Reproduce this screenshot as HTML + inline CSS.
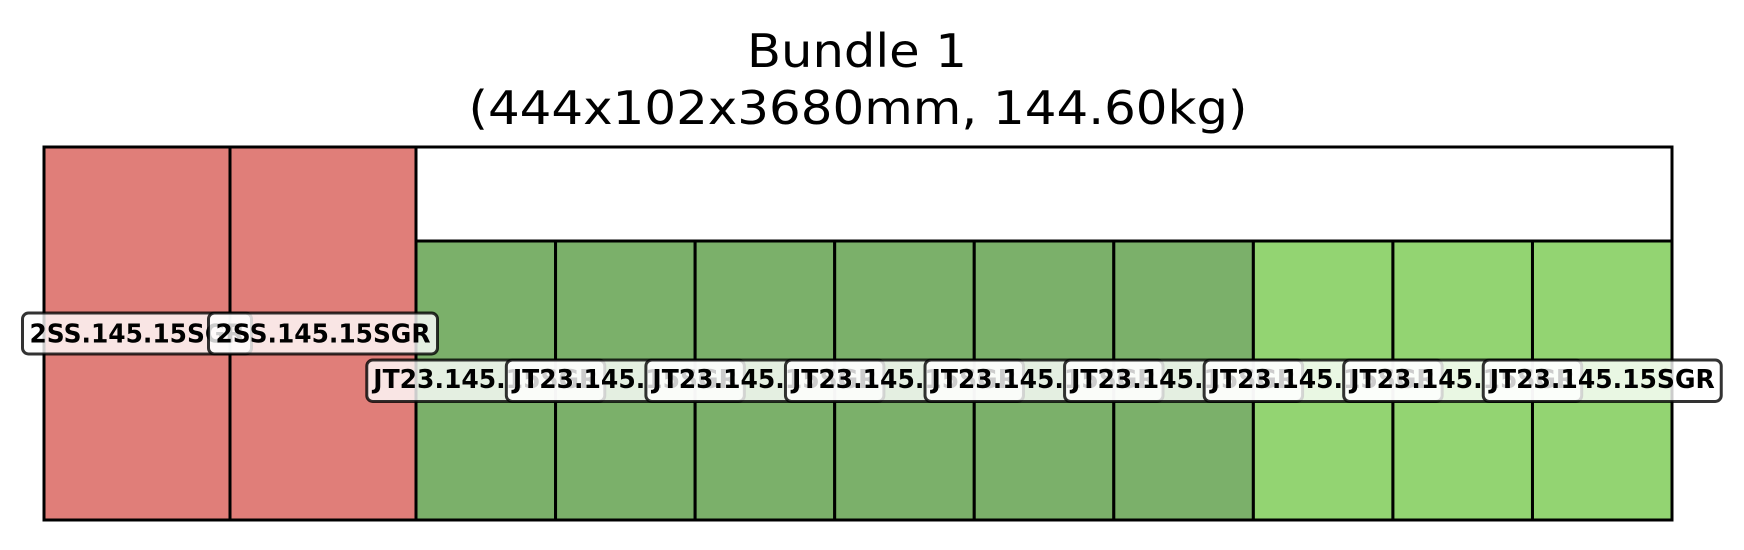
<!DOCTYPE html>
<html><head><meta charset="utf-8"><style>html,body{margin:0;padding:0;background:#fff}svg{display:block}</style></head>
<body>
<svg width="1744" height="550" viewBox="0 0 1744 550" xmlns="http://www.w3.org/2000/svg" font-family="DejaVu Sans, Liberation Sans, sans-serif">
<text x="857" y="67" font-size="46" text-anchor="middle" textLength="220" lengthAdjust="spacingAndGlyphs">Bundle 1</text>
<text x="858" y="124" font-size="46" text-anchor="middle" textLength="779" lengthAdjust="spacingAndGlyphs">(444x102x3680mm, 144.60kg)</text>
<g stroke="#000" stroke-width="3">
<rect x="416" y="147" width="1256" height="94" fill="#fff"/>
<rect x="44" y="147" width="186" height="373" fill="#e07e79"/>
<rect x="230" y="147" width="186" height="373" fill="#e07e79"/>
<rect x="416" y="241" width="139.56" height="279" fill="#7bb06a"/>
<rect x="555.56" y="241" width="139.56" height="279" fill="#7bb06a"/>
<rect x="695.12" y="241" width="139.56" height="279" fill="#7bb06a"/>
<rect x="834.68" y="241" width="139.56" height="279" fill="#7bb06a"/>
<rect x="974.24" y="241" width="139.56" height="279" fill="#7bb06a"/>
<rect x="1113.8" y="241" width="139.56" height="279" fill="#7bb06a"/>
<rect x="1253.36" y="241" width="139.56" height="279" fill="#93d472"/>
<rect x="1392.92" y="241" width="139.56" height="279" fill="#93d472"/>
<rect x="1532.48" y="241" width="139.52" height="279" fill="#93d472"/>
</g>
<g font-size="26" font-weight="bold" text-anchor="middle">
<g><rect x="22.5" y="313" width="229" height="41" rx="6" fill="rgba(255,255,255,0.8)" stroke="rgba(0,0,0,0.8)" stroke-width="3"/><text x="137" y="342.5" textLength="215" lengthAdjust="spacingAndGlyphs">2SS.145.15SGR</text></g>
<g><rect x="208.5" y="313" width="229" height="41" rx="6" fill="rgba(255,255,255,0.8)" stroke="rgba(0,0,0,0.8)" stroke-width="3"/><text x="323" y="342.5" textLength="215" lengthAdjust="spacingAndGlyphs">2SS.145.15SGR</text></g>
</g>
<g font-size="26" font-weight="bold" text-anchor="middle">
<g transform="translate(485.78,0)"><rect x="-119" y="360" width="238" height="41.5" rx="6" fill="rgba(255,255,255,0.8)" stroke="rgba(0,0,0,0.8)" stroke-width="3"/><text x="0" y="388" textLength="225" lengthAdjust="spacingAndGlyphs">JT23.145.15SGR</text></g>
<g transform="translate(625.34,0)"><rect x="-119" y="360" width="238" height="41.5" rx="6" fill="rgba(255,255,255,0.8)" stroke="rgba(0,0,0,0.8)" stroke-width="3"/><text x="0" y="388" textLength="225" lengthAdjust="spacingAndGlyphs">JT23.145.15SGR</text></g>
<g transform="translate(764.9,0)"><rect x="-119" y="360" width="238" height="41.5" rx="6" fill="rgba(255,255,255,0.8)" stroke="rgba(0,0,0,0.8)" stroke-width="3"/><text x="0" y="388" textLength="225" lengthAdjust="spacingAndGlyphs">JT23.145.15SGR</text></g>
<g transform="translate(904.46,0)"><rect x="-119" y="360" width="238" height="41.5" rx="6" fill="rgba(255,255,255,0.8)" stroke="rgba(0,0,0,0.8)" stroke-width="3"/><text x="0" y="388" textLength="225" lengthAdjust="spacingAndGlyphs">JT23.145.15SGR</text></g>
<g transform="translate(1044.02,0)"><rect x="-119" y="360" width="238" height="41.5" rx="6" fill="rgba(255,255,255,0.8)" stroke="rgba(0,0,0,0.8)" stroke-width="3"/><text x="0" y="388" textLength="225" lengthAdjust="spacingAndGlyphs">JT23.145.15SGR</text></g>
<g transform="translate(1183.58,0)"><rect x="-119" y="360" width="238" height="41.5" rx="6" fill="rgba(255,255,255,0.8)" stroke="rgba(0,0,0,0.8)" stroke-width="3"/><text x="0" y="388" textLength="225" lengthAdjust="spacingAndGlyphs">JT23.145.15SGR</text></g>
<g transform="translate(1323.14,0)"><rect x="-119" y="360" width="238" height="41.5" rx="6" fill="rgba(255,255,255,0.8)" stroke="rgba(0,0,0,0.8)" stroke-width="3"/><text x="0" y="388" textLength="225" lengthAdjust="spacingAndGlyphs">JT23.145.15SGR</text></g>
<g transform="translate(1462.7,0)"><rect x="-119" y="360" width="238" height="41.5" rx="6" fill="rgba(255,255,255,0.8)" stroke="rgba(0,0,0,0.8)" stroke-width="3"/><text x="0" y="388" textLength="225" lengthAdjust="spacingAndGlyphs">JT23.145.15SGR</text></g>
<g transform="translate(1602.24,0)"><rect x="-119" y="360" width="238" height="41.5" rx="6" fill="rgba(255,255,255,0.8)" stroke="rgba(0,0,0,0.8)" stroke-width="3"/><text x="0" y="388" textLength="225" lengthAdjust="spacingAndGlyphs">JT23.145.15SGR</text></g>
</g>
</svg>
</body></html>
